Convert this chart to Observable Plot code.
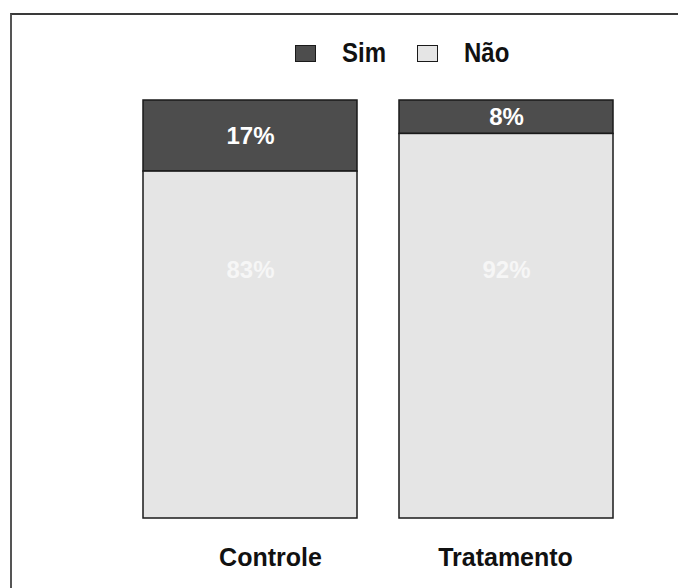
<!DOCTYPE html>
<html>
<head>
<meta charset="utf-8">
<script src="https://cdn.jsdelivr.net/npm/d3@7"></script>
<script src="https://cdn.jsdelivr.net/npm/@observablehq/plot@0.6"></script>
<style>
  html, body { margin: 0; padding: 0; background: #fff; }
  #wrap { position: relative; width: 678px; height: 588px; overflow: hidden; font-family: "Liberation Sans", Arial, sans-serif; }
  #frame { position: absolute; left: 10px; top: 13px; right: -5px; bottom: -5px; border-top: 2px solid #3a3a3a; border-left: 2px solid #555; }
  #chart { position: absolute; left: 0; top: 0; }
  #legend { position: absolute; top: 43px; left: 295px; display: flex; align-items: center; font-weight: bold; font-size: 24px; color: #111; }
  #legend .sw { width: 19px; height: 15px; border: 1.5px solid #1a1a1a; box-sizing: content-box; }
  #legend .lab { display: inline-block; transform: scaleY(1.12); margin-left: 26px; margin-right: 31px; line-height: 20px; }
</style>
</head>
<body>
<div id="wrap">
  <div id="frame"></div>
  <div id="chart"></div>
  <div id="legend"></div>
</div>
<script>
const groups = ["Controle", "Tratamento"];
const responses = ["Sim", "Não"];
const simValues = [0.17, 0.08];
const naoValues = [0.83, 0.92];
const simLabels = ["17%", "8%"];
const naoLabels = ["83%", "92%"];
const colors = ["#4d4d4d", "#e5e5e5"];

const rows = [];
groups.forEach((g, i) => {
  rows.push({group: g, response: "Sim", value: simValues[i], label: simLabels[i]});
  rows.push({group: g, response: "Não", value: naoValues[i], label: naoLabels[i]});
});
const simRows = rows.filter(d => d.response === "Sim");
const naoRows = rows.filter(d => d.response === "Não");

const fontBase = {fontFamily: "Liberation Sans, Arial, sans-serif", fontWeight: "bold", fontSize: 24};

const plot = Plot.plot({
  width: 678,
  height: 588,
  marginLeft: 143,
  marginRight: 64,
  marginTop: 100,
  marginBottom: 70,
  style: {background: "transparent"},
  x: {domain: groups, paddingInner: 0.163, paddingOuter: 0, axis: null},
  y: {domain: [0, 1], axis: null},
  color: {domain: responses, range: colors},
  marks: [
    Plot.barY(rows, Plot.stackY({
      x: "group", y: "value", fill: "response", order: ["Não", "Sim"],
      stroke: "#1a1a1a", strokeWidth: 1.5
    })),
    Plot.text(simRows, {
      x: "group", y: d => 1 - d.value / 2, text: "label",
      fill: "#ffffff", lineAnchor: "middle", ...fontBase
    }),
    Plot.text(naoRows, {
      x: "group", y: 0.593, text: "label",
      fill: "#f6f6f6", lineAnchor: "middle", ...fontBase
    }),
    Plot.text([groups[0]], {
      x: d => d, text: d => d, frameAnchor: "bottom", dy: 39, dx: 20,
      fill: "#111", lineAnchor: "middle", ...fontBase, fontSize: 25
    }),
    Plot.text([groups[1]], {
      x: d => d, text: d => d, frameAnchor: "bottom", dy: 39, dx: -1,
      fill: "#111", lineAnchor: "middle", ...fontBase, fontSize: 25
    })
  ]
});

plot.querySelectorAll("text").forEach(t => {
  const tr = t.getAttribute("transform");
  if (tr && tr.includes("translate") && !t.hasAttribute("y")) {
    t.setAttribute("transform", tr + " scale(1,1.12)");
  }
});

document.getElementById("chart").appendChild(plot);

const legend = document.getElementById("legend");
responses.forEach((r, i) => {
  const sw = document.createElement("span");
  sw.className = "sw";
  sw.style.background = colors[i];
  const lab = document.createElement("span");
  lab.className = "lab";
  lab.textContent = r;
  legend.appendChild(sw);
  legend.appendChild(lab);
});
</script>
</body>
</html>
